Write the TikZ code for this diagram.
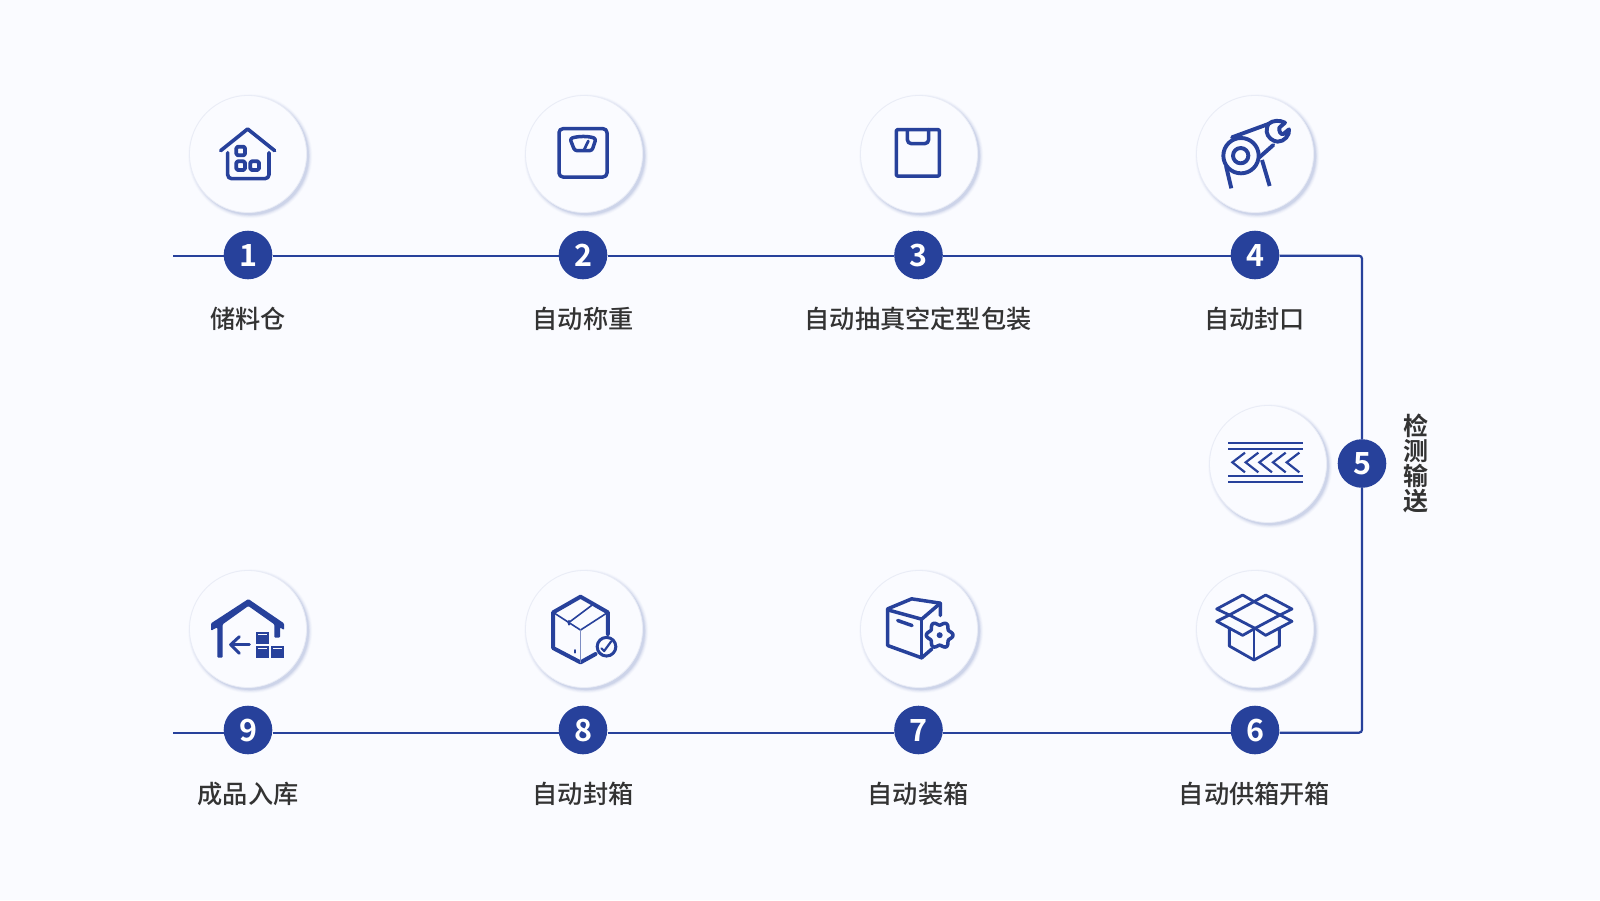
\documentclass[tikz,border=0pt]{standalone}
\usepackage{fontspec}
\setmainfont{Noto Sans CJK SC Medium}
\newfontfamily\numfont{Noto Sans CJK SC Bold}
\newfontfamily\cjkbold{Noto Sans CJK SC Bold}
\definecolor{bgc}{HTML}{FAFBFF}
\definecolor{brand}{HTML}{27419B}
\definecolor{ink}{HTML}{333333}
\definecolor{shadowc}{HTML}{A9B6D8}
\definecolor{ringc}{HTML}{E9ECF6}
\newcommand{\dg}[1]{\raisebox{-2pt}{#1}}
\tikzset{
  x=1pt,y=-1pt,
  badge/.style={circle,fill=brand,text=white,minimum size=48.6pt,inner sep=0pt,font=\numfont\fontsize{30.5}{30.5}\selectfont},
  lab/.style={text=ink,inner sep=0pt,font=\fontsize{25.2}{25.2}\selectfont},
  flow/.style={draw=brand,line width=2.2pt},
  ico/.style={draw=brand,line width=3.5pt,line cap=round,line join=round},
  thin ico/.style={draw=brand,line width=1.6pt,line cap=round,line join=round},
  disc/.style={circle,fill=bgc,draw=ringc,line width=0.8pt,minimum size=117pt,inner sep=0pt},
}
\newcommand{\ringdisc}[3]{%
  \foreach \rr/\oo in {62/0.05,61.2/0.08,60.4/0.12,59.6/0.18,58.8/0.25}{%
    \fill[shadowc,opacity=\oo] (#2+2.2,#3+2.2) circle[radius=\rr];}
  \node[disc] (#1) at (#2,#3) {};}
\begin{document}
\begin{tikzpicture}
\useasboundingbox (0,0) rectangle (1600,900);
\fill[bgc] (0,0) rectangle (1600,900);

% icon discs
\ringdisc{d1}{248}{154}
\ringdisc{d2}{584}{154}
\ringdisc{d3}{919}{154}
\ringdisc{d4}{1255}{154}
\ringdisc{d5}{1268}{464}
\ringdisc{d6}{1255}{629}
\ringdisc{d7}{919}{629}
\ringdisc{d8}{584}{629}
\ringdisc{d9}{248}{629}

% badges
\node[badge] (n1) at (248,255) {\dg{1}};
\node[badge] (n2) at (583,255) {\dg{2}};
\node[badge] (n3) at (918.5,255) {\dg{3}};
\node[badge] (n4) at (1255,255) {\dg{4}};
\node[badge] (n5) at (1362,463.5) {\dg{5}};
\node[badge] (n6) at (1255,730) {\dg{6}};
\node[badge] (n7) at (918.5,730) {\dg{7}};
\node[badge] (n8) at (583,730) {\dg{8}};
\node[badge] (n9) at (248,730) {\dg{9}};

% connectors
\coordinate (startT) at (173,255.7);
\coordinate (startB) at (173,732.7);
\coordinate (cornerT) at (1362,255.7);
\coordinate (cornerB) at (1362,732.7);
\draw[flow] (startT) -- (n1.west|-startT);
\draw[flow] (n1.east|-startT) -- (n2.west|-startT);
\draw[flow] (n2.east|-startT) -- (n3.west|-startT);
\draw[flow] (n3.east|-startT) -- (n4.west|-startT);
\draw[flow,rounded corners=3pt] (n4.east|-startT) -- (cornerT) -- (n5.north);
\draw[flow,rounded corners=3pt] (n5.south) -- (cornerB) -- (n6.east|-startB);
\draw[flow] (n6.west|-startB) -- (n7.east|-startB);
\draw[flow] (n7.west|-startB) -- (n8.east|-startB);
\draw[flow] (n8.west|-startB) -- (n9.east|-startB);
\draw[flow] (n9.west|-startB) -- (startB);

% labels
\node[lab] (t1) at (248,318.5) {储料仓};
\node[lab] (t2) at (583,318.5) {自动称重};
\node[lab] (t3) at (918,318.5) {自动抽真空定型包装};
\node[lab] (t4) at (1254.5,318.5) {自动封口};
\node[lab,align=center,font=\cjkbold\fontsize{25}{25}\selectfont] (t5) at (1416,463) {检\\测\\输\\送};
\node[lab] (t6) at (1254.5,794) {自动供箱开箱};
\node[lab] (t7) at (918,794) {自动装箱};
\node[lab] (t8) at (583,794) {自动封箱};
\node[lab] (t9) at (248,794) {成品入库};

% icon 1: house
\begin{scope}[shift={(170,80)},scale=1/3]
\draw[ico,line width=3.6pt] (152,212) -- (233,147) -- (314,212);
\draw[ico,line width=3.6pt,rounded corners=4pt] (173,218) -- (173,296) -- (297,296) -- (297,218);
\foreach \cx/\cy in {212/213,212/257,254/257}
  \draw[ico,line width=3.8pt,rounded corners=1.5pt] (\cx-13,\cy-13) rectangle (\cx+13,\cy+13);
\end{scope}

% icon 2: scale
\begin{scope}[shift={(510,80)},scale=1/3]
\draw[ico,rounded corners=4pt] (147,146) rectangle (291,291);
\draw[ico,rounded corners=2.5pt] (180,176) .. controls (205,168) and (235,168) .. (258,176) -- (246,212) -- (194,212) -- cycle;
\draw[ico,line width=2.8pt] (222,210) -- (235,183);
\end{scope}

% icon 3: bag
\begin{scope}[shift={(840,80)},scale=1/3]
\draw[ico,rounded corners=1pt] (169,149) rectangle (298,288);
\draw[ico,rounded corners=4pt] (202,149) -- (202,191) -- (266,191) -- (266,149);
\end{scope}

% icon 4: tape with wrench
\begin{scope}[shift={(1176,80)},scale=1/3]
\draw[ico,line width=3.9pt] (195,227) circle[radius=53];
\draw[ico,line width=3.9pt] (194,227) circle[radius=23];
\draw[ico,line width=3.9pt] (168,172) -- (277,132);
\draw[ico,line width=3.9pt] (250,232) -- (292,195);
\draw[ico,line width=3.9pt,line cap=butt] (150,258) -- (166,325);
\draw[ico,line width=3.9pt,line cap=butt] (258,240) -- (281,318);
\draw[ico,line width=3.9pt] (277,132) .. controls (290,120) and (312,120) .. (327,128) -- (310,143) .. controls (308,155) and (315,165) .. (322,162) -- (339,148) .. controls (342,165) and (325,185) .. (305,185) .. controls (290,184) and (274,172) .. (272,155) .. controls (272,145) and (274,137) .. (277,132);
\end{scope}

% icon 5: conveyor
\begin{scope}[shift={(1190,390)},scale=1/3]
\foreach \ly in {159,178,257,275}
  \draw[draw=brand,line width=2.2pt] (114,\ly) -- (338,\ly);
\foreach \tx in {127,167,208,249,290}
  \draw[draw=brand,line width=2.2pt] (\tx+38,188) -- (\tx,217) -- (\tx+38,247);
\end{scope}

% icon 6: open box
\begin{scope}[shift={(1180,560)},scale=1/3]
\begin{scope}[every path/.append style={ico,line width=2.8pt}]
\draw (148,165) -- (110,147) -- (188,105) -- (222,125);
\draw (222,125) -- (257,105) -- (336,147) -- (300,165);
\draw (222,125) -- (300,165) -- (225,205) -- (148,165) -- cycle;
\draw (148,165) -- (110,184) -- (188,226) -- (225,205);
\draw (225,205) -- (257,226) -- (336,184) -- (300,165);
\draw (148,205) -- (148,258) -- (222,300) -- (298,258) -- (298,205);
\draw (222,205) -- (222,300);
\end{scope}
\end{scope}

% icon 7: box with gear
\begin{scope}[shift={(851,570.5)},scale=1/3]
\draw[ico] (268,135) -- (268,98) -- (182,85) -- (110,115) -- (110,225) -- (212,262) -- (243,235);
\draw[ico] (110,118) -- (212,146) -- (268,98);
\draw[ico] (212,146) -- (212,262);
\draw[ico] (140,150) -- (183,165);
\draw[ico] plot[domain=0:360,samples=73,smooth cycle] ({266+(35+5*cos(6*\x))*cos(\x)},{194+(35+5*cos(6*\x))*sin(\x)});
\fill[brand] (266,194) circle[radius=9];
\end{scope}

% icon 8: sealed box with tick
\begin{scope}[shift={(520.5,570.7)},scale=1/3]
\draw[ico,line width=4pt] (262,190) -- (262,125) -- (180,78) -- (98,125) -- (98,232) -- (180,275) -- (225,250);
\draw[thin ico] (98,125) -- (180,178) -- (262,125);
\draw[thin ico,draw=brand!60] (180,178) -- (180,275);
\draw[thin ico] (143,157) -- (215,103);
\draw[thin ico] (145,150) -- (145,162);
\draw[thin ico,line width=2pt] (163,238) -- (163,246);
\draw[ico,line width=3pt] (258,228) circle[radius=28];
\draw[ico,line width=2.2pt] (243,233) -- (251,241) -- (272,212);
\end{scope}

% icon 9: warehouse inbound
\begin{scope}[shift={(170,570)},scale=1/3]
\fill[brand,rounded corners=1pt] (123,160) -- (235,87) -- (342,160) -- (342,180) -- (330,172) -- (330,203) -- (313,203) -- (313,163) -- (235,108) -- (158,163) -- (158,263) -- (142,263) -- (142,172) -- (123,182) -- cycle;
\draw[ico,line width=3pt] (238,224) -- (185,224);
\draw[ico,line width=3pt] (208,200) -- (182,224) -- (208,250);
\fill[brand] (257,186) rectangle (298,222);
\fill[brand] (257,229) rectangle (298,263);
\fill[brand] (303,229) rectangle (342,263);
\draw[bgc,line width=0.9pt] (265,194) -- (290,194);
\draw[bgc,line width=0.9pt] (265,236) -- (290,236);
\draw[bgc,line width=0.9pt] (310,236) -- (335,236);
\end{scope}
\end{tikzpicture}
\end{document}
